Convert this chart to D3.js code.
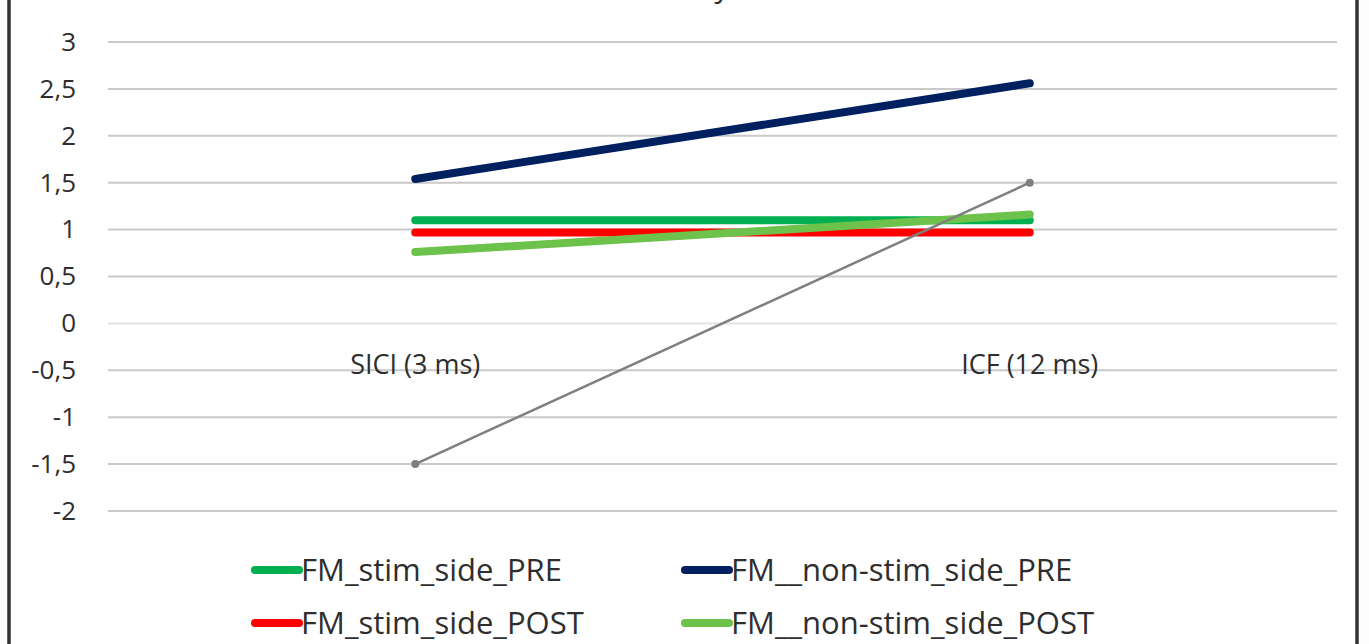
<!DOCTYPE html>
<html>
<head>
<meta charset="utf-8">
<script src="https://cdn.jsdelivr.net/npm/d3@7"></script>
<style>
  html, body { margin: 0; padding: 0; background: #fdfdfd; }
  svg { display: block; font-family: "Open Sans", "Noto Sans", sans-serif; }
</style>
</head>
<body>
<div class="chart"></div>
<script>
// categories on the x axis
const categories = ["SICI (3 ms)", "ICF (12 ms)"];

// series, in drawing / legend order
const seriesNames = [
    "FM_stim_side_PRE",
    "FM__non-stim_side_PRE",
    "FM_stim_side_POST",
    "FM__non-stim_side_POST",
    ""
];
const stimPre = [1.10, 1.10];
const nonStimPre = [1.54, 2.56];
const stimPost = [0.97, 0.97];
const nonStimPost = [0.76, 1.16];
const grey = [-1.5, 1.5];
const seriesColors = ["#00b050", "#002060", "#ff0000", "#6cc24a", "#7f7f7f"];

const yTicks = [-2, -1.5, -1, -0.5, 0, 0.5, 1, 1.5, 2, 2.5, 3];

const width = 1369, height = 644;
const textColor = "#2e2e2e";

const svg = d3.select(".chart").append("svg")
    .attr("width", width)
    .attr("height", height);

// outer chart frame (top and bottom lie outside the picture)
svg.append("rect")
    .attr("x", 9).attr("y", -20)
    .attr("width", 1348).attr("height", height + 40)
    .attr("fill", "#ffffff")
    .attr("stroke", "#333")
    .attr("stroke-width", 3.5);

// title, only its descender is in view
svg.append("text")
    .attr("x", 722).attr("y", -3)
    .attr("text-anchor", "middle")
    .attr("font-size", 30)
    .attr("fill", textColor)
    .text("y");

const plotLeft = 108, plotRight = 1337;
const x = d3.scalePoint()
    .domain(categories)
    .range([plotLeft, plotRight])
    .padding(0.5);

const y = d3.scaleLinear()
    .domain([-2, 3])
    .range([511, 42]);

// gridlines
svg.append("g")
    .selectAll("line")
    .data(yTicks)
    .join("line")
    .attr("x1", plotLeft).attr("x2", plotRight)
    .attr("y1", d => y(d)).attr("y2", d => y(d))
    .attr("stroke", d => d === 0 ? "#e3e3e3" : "#c9c9c9")
    .attr("stroke-width", 2);

// y axis labels
const fmt = d => String(d).replace(".", ",");
const yAxis = d3.axisLeft(y).tickValues(yTicks).tickFormat(fmt).tickSize(0).tickPadding(0);
svg.append("g")
    .attr("transform", "translate(76,0)")
    .call(yAxis)
    .call(g => g.select(".domain").remove())
    .selectAll("text")
    .attr("font-size", 26)
    .attr("font-family", "Open Sans")
    .attr("fill", textColor);

// category labels
svg.append("g")
    .selectAll("text")
    .data(categories)
    .join("text")
    .attr("x", d => x(d))
    .attr("y", 374)
    .attr("text-anchor", "middle")
    .attr("font-size", 27)
    .attr("fill", textColor)
    .text(d => d);

// lines
const allSeries = [stimPre, nonStimPre, stimPost, nonStimPost, grey];
const line = d3.line()
    .x((d, i) => x(categories[i]))
    .y(d => y(d));

allSeries.forEach((vals, k) => {
    svg.append("path")
        .datum(vals)
        .attr("d", line)
        .attr("fill", "none")
        .attr("stroke", seriesColors[k])
        .attr("stroke-width", k === 4 ? 2.5 : 8)
        .attr("stroke-linecap", "round");
});

// markers for the grey series
svg.append("g")
    .selectAll("circle")
    .data(grey)
    .join("circle")
    .attr("cx", (d, i) => x(categories[i]))
    .attr("cy", d => y(d))
    .attr("r", 4)
    .attr("fill", seriesColors[4]);

// legend
const legendPos = [[255, 570], [685, 570], [255, 623], [685, 623]];
const legend = svg.append("g");
seriesNames.slice(0, 4).forEach((name, k) => {
    const [lx, ly] = legendPos[k];
    legend.append("line")
        .attr("x1", lx).attr("x2", lx + 44)
        .attr("y1", ly).attr("y2", ly)
        .attr("stroke", seriesColors[k])
        .attr("stroke-width", 8)
        .attr("stroke-linecap", "round");
    legend.append("text")
        .attr("x", lx + 46)
        .attr("y", ly + 11)
        .attr("font-size", 31)
        .attr("fill", textColor)
        .text(name);
});
</script>
</body>
</html>
